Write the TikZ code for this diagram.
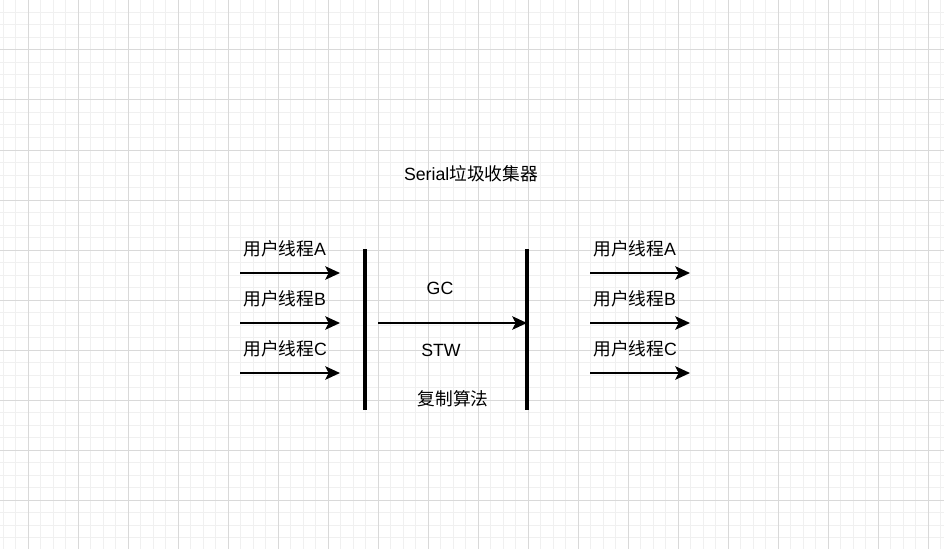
\documentclass[tikz,border=0pt]{standalone}
\usepackage{fontspec}
\setmainfont{Liberation Sans}
\newfontfamily\cjk{Noto Sans CJK SC}
\usetikzlibrary{arrows.meta}
\definecolor{gridminor}{HTML}{F0F0F0}
\definecolor{gridmajor}{HTML}{D9D9D9}

\begin{document}
\begin{tikzpicture}[x=0.75pt,y=-0.75pt,
    every node/.style={inner sep=0pt,font=\fontsize{13.3}{15}\selectfont},
    flow/.style={-{Stealth[length=11pt,width=10pt,inset=2.5pt]},line width=2pt},
    bar/.style={line width=2.3pt}]
    \useasboundingbox (0,0) rectangle (944,549);
    
    % background grid
    \foreach \i in {0,...,75}
        \draw[gridminor,line width=0.75pt] ({3+12.5*\i},0) -- ({3+12.5*\i},549);
    \foreach \i in {0,...,43}
        \draw[gridminor,line width=0.75pt] (0,{12.5*\i}) -- (944,{12.5*\i});
    \foreach \i in {0,...,18}
        \draw[gridmajor,line width=0.75pt] ({28+50*\i},0) -- ({28+50*\i},549);
    \foreach \i in {1,...,10}
        \draw[gridmajor,line width=0.75pt] (0,{50*\i}) -- (944,{50*\i});
    
    % title
    \node (title) at (471,174) {Serial{\cjk 垃圾收集器}};
    
    % user threads before GC
    \begin{scope}
        \node[anchor=west] (preA) at (243,249) {{\cjk 用户线程}A};
        \node[anchor=west] (preB) at (243,299) {{\cjk 用户线程}B};
        \node[anchor=west] (preC) at (243,349) {{\cjk 用户线程}C};
        \coordinate (preAs) at (240,273); \coordinate (preAe) at (340,273);
        \coordinate (preBs) at (240,323); \coordinate (preBe) at (340,323);
        \coordinate (preCs) at (240,373); \coordinate (preCe) at (340,373);
        \draw[flow] (preAs) -- (preAe);
        \draw[flow] (preBs) -- (preBe);
        \draw[flow] (preCs) -- (preCe);
    \end{scope}
    
    % GC pause between the two bars
    \coordinate (stopTop) at (365,249); \coordinate (stopBot) at (365,410);
    \coordinate (goTop) at (527,249); \coordinate (goBot) at (527,410);
    \draw[bar] (stopTop) -- (stopBot);
    \draw[bar] (goTop) -- (goBot);
    \coordinate (gcs) at (378,323); \coordinate (gce) at (527,323);
    \draw[flow] (gcs) -- (gce);
    \node (gc) at (440,288) {GC};
    \node (stw) at (441,350) {STW};
    \node (copy) at (453,399) {\cjk 复制算法};
    
    % user threads after GC
    \begin{scope}[xshift=262.5pt]
        \node[anchor=west] (postA) at (243,249) {{\cjk 用户线程}A};
        \node[anchor=west] (postB) at (243,299) {{\cjk 用户线程}B};
        \node[anchor=west] (postC) at (243,349) {{\cjk 用户线程}C};
        \coordinate (postAs) at (240,273); \coordinate (postAe) at (340,273);
        \coordinate (postBs) at (240,323); \coordinate (postBe) at (340,323);
        \coordinate (postCs) at (240,373); \coordinate (postCe) at (340,373);
        \draw[flow] (postAs) -- (postAe);
        \draw[flow] (postBs) -- (postBe);
        \draw[flow] (postCs) -- (postCe);
    \end{scope}
    
\end{tikzpicture}
\end{document}
